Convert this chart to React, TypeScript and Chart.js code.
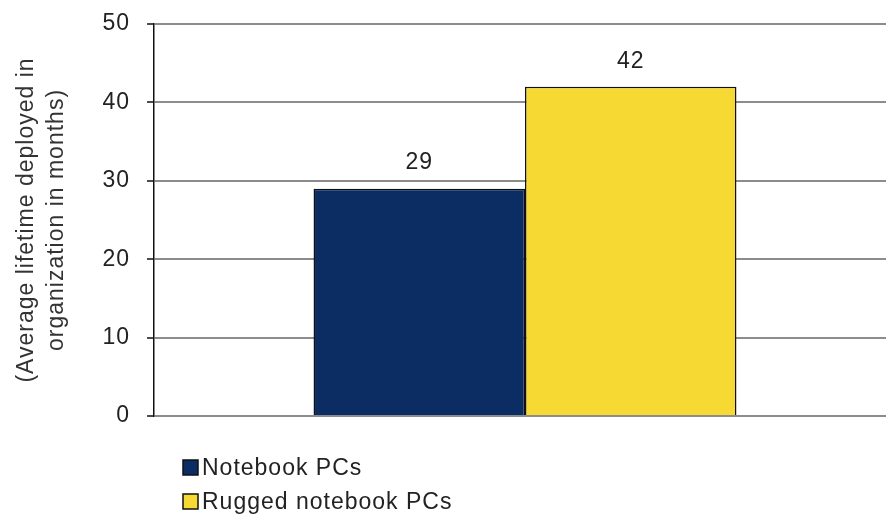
import React, { useEffect, useRef } from "react";
import { Chart, registerables } from "chart.js";

Chart.register(...registerables);

const categories = [""];
const seriesNames = ["Notebook PCs", "Rugged notebook PCs"];
const notebookValues = [29];
const ruggedValues = [42];
const seriesColors = ["#0b2d63", "#f6d933"];
const yTicks = [0, 10, 20, 30, 40, 50];
const yTitle = ["(Average lifetime deployed in", "organization in months)"];

const FONT = "'Liberation Sans', Arial, sans-serif";

const spacingPlugin = {
  id: "spacing",
  beforeDraw(chart: any) {
    chart.ctx.letterSpacing = "1px";
  },
};

const valueLabelPlugin = {
  id: "valueLabels",
  afterDatasetsDraw(chart: any) {
    const ctx = chart.ctx;
    ctx.save();
    ctx.letterSpacing = "1px";
    ctx.font = `23px ${FONT}`;
    ctx.fillStyle = "#222";
    ctx.textAlign = "center";
    ctx.textBaseline = "bottom";
    chart.data.datasets.forEach((ds: any, i: number) => {
      const meta = chart.getDatasetMeta(i);
      meta.data.forEach((bar: any, j: number) => {
        ctx.fillText(String(ds.data[j]), bar.x, bar.y - 14);
      });
    });
    ctx.restore();
  },
};

const legendPlugin = {
  id: "stackLegend",
  afterDraw(chart: any) {
    const ctx = chart.ctx;
    const area = chart.chartArea;
    ctx.save();
    ctx.letterSpacing = "1px";
    ctx.font = `23px ${FONT}`;
    ctx.textBaseline = "middle";
    ctx.textAlign = "left";
    chart.data.datasets.forEach((ds: any, i: number) => {
      const y = area.bottom + 52 + i * 34;
      const x = area.left + 29;
      ctx.fillStyle = ds.backgroundColor;
      ctx.fillRect(x, y - 8, 15, 15);
      ctx.strokeStyle = "#111";
      ctx.lineWidth = 1.5;
      ctx.strokeRect(x, y - 8, 15, 15);
      ctx.fillStyle = "#222";
      ctx.fillText(ds.label, x + 19, y + 1);
    });
    ctx.restore();
  },
};

export default function App() {
  const ref = useRef<HTMLCanvasElement>(null);
  useEffect(() => {
    if (!ref.current) return;
    const chart = new Chart(ref.current, {
      type: "bar",
      data: {
        labels: categories,
        datasets: [
          {
            label: seriesNames[0],
            data: notebookValues,
            backgroundColor: seriesColors[0],
            borderColor: "#111",
            borderWidth: 1.5,
            barPercentage: 1,
            categoryPercentage: 0.57,
          },
          {
            label: seriesNames[1],
            data: ruggedValues,
            backgroundColor: seriesColors[1],
            borderColor: "#111",
            borderWidth: 1.5,
            barPercentage: 1,
            categoryPercentage: 0.57,
          },
        ],
      },
      options: {
        responsive: false,
        animation: false,
        layout: { padding: { top: 24, bottom: 107, right: 0, left: 0 } },
        plugins: {
          legend: { display: false },
          tooltip: { enabled: false },
        },
        scales: {
          x: { display: false },
          y: {
            min: 0,
            max: 50,
            afterBuildTicks: (s: any) => {
              s.ticks = yTicks.map((v) => ({ value: v }));
            },
            afterFit: (s: any) => {
              s.width = 154;
              s.paddingTop = 0;
              s.paddingBottom = 0;
            },
            ticks: {
              padding: 17,
              color: "#222",
              font: { family: FONT, size: 23 },
            },
            grid: {
              color: "#8c8c8c",
              lineWidth: 2,
              tickLength: 7,
              tickColor: "#111",
              tickWidth: 1.5,
            },
            border: { color: "#111", width: 1.5 },
            title: {
              display: true,
              text: yTitle,
              color: "#333",
              font: { family: FONT, size: 23, lineHeight: 1.3 },
              padding: { top: 12, bottom: 0 },
            },
          },
        },
      },
      plugins: [spacingPlugin, valueLabelPlugin, legendPlugin],
    });
    return () => chart.destroy();
  }, []);
  return (
    <div
      style={{
        position: "absolute",
        left: 0,
        top: 0,
        width: 886,
        height: 523,
        overflow: "hidden",
        background: "#fff",
      }}
    >
      <canvas ref={ref} width={896} height={523} style={{ display: "block" }} />
    </div>
  );
}
